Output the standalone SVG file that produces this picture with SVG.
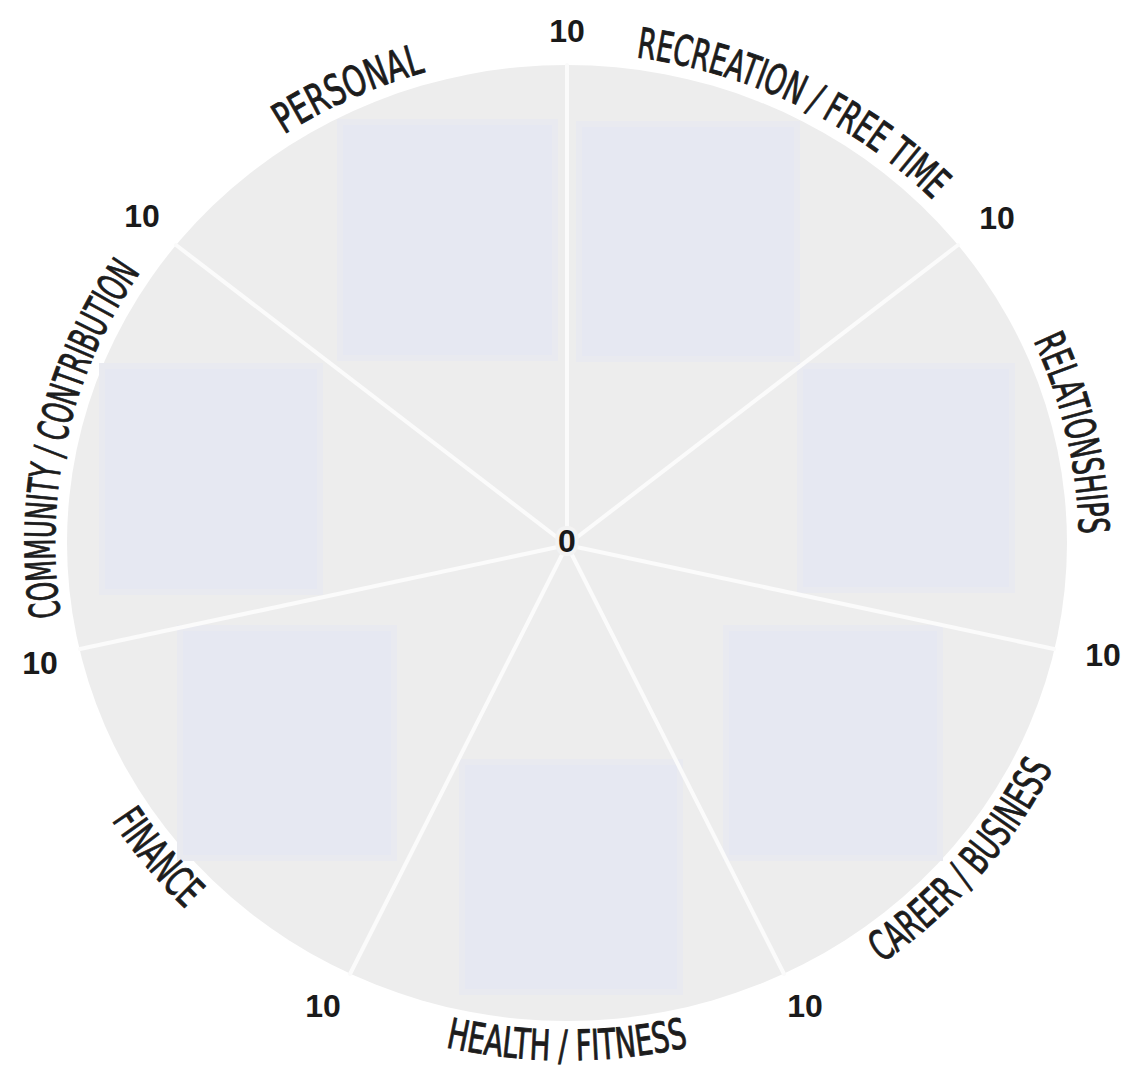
<svg xmlns="http://www.w3.org/2000/svg" xmlns:xlink="http://www.w3.org/1999/xlink" width="1130" height="1072" viewBox="0 0 1130 1072">
  <style>
    .wheel { fill: #ededed; }
    .area { fill: #e6e8f2; stroke: #e9eaf0; stroke-width: 6; }
    .spoke { stroke: #fbfbfb; stroke-width: 4; stroke-linecap: round; }
    .lbl { font-family: "Liberation Sans Narrow", "DejaVu Sans Condensed", "Liberation Sans", sans-serif; font-stretch: condensed; font-size: 42px; fill: #1c1c1c; stroke: #1c1c1c; stroke-width: 0.9px; text-anchor: middle; }
    .num { font-family: "Liberation Sans", Arial, sans-serif; font-weight: bold; font-size: 32px; fill: #1a1a1a; text-anchor: middle; }
  </style>
  <defs>
    <path id="pPersonal" d="M 83.8 381 A 512 490 0 0 1 736.2 80.5"/>
    <path id="pRecreation" d="M 397.8 80.5 A 512 490 0 0 1 1050.2 381"/>
    <path id="pRelationships" d="M 839.1 127.9 A 512 490 0 0 1 1000.7 803.4"/>
    <path id="pCommunity" d="M 133.3 803.4 A 512 490 0 0 1 294.9 127.9"/>
    <path id="pCareer" d="M 627.1 1056.8 A 538 516 0 0 0 1102.7 485.4"/>
    <path id="pHealth" d="M 185.9 908.6 A 538 516 0 0 0 948.1 908.6"/>
    <path id="pFinance" d="M 31.3 485.4 A 538 516 0 0 0 506.9 1056.8"/>
  </defs>
  <rect width="1130" height="1072" fill="#ffffff"/>
  <ellipse class="wheel" cx="567" cy="543" rx="500" ry="478"/>

  <g id="personal"><rect class="area" x="340" y="122" width="215" height="236"/>
    <text class="lbl"><textPath href="#pPersonal" xlink:href="#pPersonal" startOffset="50.5%" textLength="155" lengthAdjust="spacingAndGlyphs">PERSONAL</textPath></text></g>
  <g id="recreation"><rect class="area" x="579" y="124" width="218" height="235"/>
    <text class="lbl"><textPath href="#pRecreation" xlink:href="#pRecreation" startOffset="51.5%" textLength="335" lengthAdjust="spacingAndGlyphs">RECREATION / FREE TIME</textPath></text></g>
  <g id="relationships"><rect class="area" x="800" y="366" width="212" height="224"/>
    <text class="lbl"><textPath href="#pRelationships" xlink:href="#pRelationships" startOffset="50.5%" textLength="200" lengthAdjust="spacingAndGlyphs">RELATIONSHIPS</textPath></text></g>
  <g id="career"><rect class="area" x="726" y="628" width="214" height="230"/>
    <text class="lbl"><textPath href="#pCareer" xlink:href="#pCareer" startOffset="49%" textLength="262" lengthAdjust="spacingAndGlyphs">CAREER / BUSINESS</textPath></text></g>
  <g id="health"><rect class="area" x="462" y="762" width="218" height="230"/>
    <text class="lbl"><textPath href="#pHealth" xlink:href="#pHealth" startOffset="50%" textLength="245" lengthAdjust="spacingAndGlyphs">HEALTH / FITNESS</textPath></text></g>
  <g id="finance"><rect class="area" x="180" y="628" width="214" height="230"/>
    <text class="lbl"><textPath href="#pFinance" xlink:href="#pFinance" startOffset="49.5%" textLength="116" lengthAdjust="spacingAndGlyphs">FINANCE</textPath></text></g>
  <g id="community"><rect class="area" x="102" y="366" width="218" height="226"/>
    <text class="lbl"><textPath href="#pCommunity" xlink:href="#pCommunity" startOffset="49.3%" textLength="362" lengthAdjust="spacingAndGlyphs">COMMUNITY / CONTRIBUTION</textPath></text></g>

  <g id="connectors">
    <line class="spoke" x1="567" y1="545" x2="567" y2="65"/>
    <line class="spoke" x1="567" y1="545" x2="958" y2="245"/>
    <line class="spoke" x1="567" y1="545" x2="1054" y2="649"/>
    <line class="spoke" x1="567" y1="545" x2="784" y2="974"/>
    <line class="spoke" x1="567" y1="545" x2="350" y2="974"/>
    <line class="spoke" x1="567" y1="545" x2="80" y2="649"/>
    <line class="spoke" x1="567" y1="545" x2="176" y2="245"/>
  </g>

  <g id="scale">
    <text class="num" x="567" y="42">10</text>
    <text class="num" x="997" y="229">10</text>
    <text class="num" x="1103" y="666">10</text>
    <text class="num" x="805" y="1017">10</text>
    <text class="num" x="323" y="1017">10</text>
    <text class="num" x="40" y="674">10</text>
    <text class="num" x="142" y="227">10</text>
    <text class="num" x="567" y="552" style="paint-order: stroke; stroke: #f3f3f3; stroke-width: 8px;">0</text>
  </g>
</svg>
